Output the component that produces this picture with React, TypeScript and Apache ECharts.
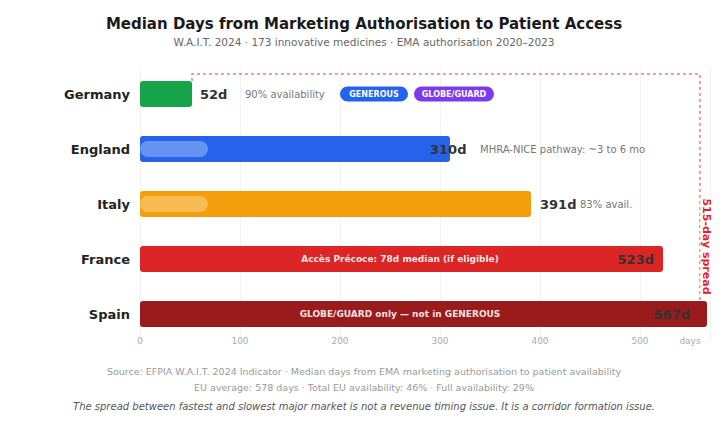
import React, { useEffect, useRef } from "react";
import * as echarts from "echarts";

const countries = ["Germany", "England", "Italy", "France", "Spain"];
const medianDays = [52, 310, 391, 523, 567];
const barColors = ["#16a34a", "#2563eb", "#f59e0b", "#dc2626", "#991b1b"];
const sideNotes = ["90% availability", "MHRA-NICE pathway: ~3 to 6 mo", "83% avail.", "", ""];
const insideNotes = ["", "", "", "Accès Précoce: 78d median (if eligible)", "GLOBE/GUARD only — not in GENEROUS"];
const pillDays = [null, 68, 68, null, null];
const badges = ["GENEROUS", "GLOBE/GUARD"];
const xTicks = [0, 100, 200, 300, 400, 500];
const spreadDays = 515;
const bracketDay = 560;
const insideNoteDay = 260;
const axisUnit = "days";
const axisUnitDay = 550;

const FONT = "DejaVu Sans";

export default function App() {
  const ref = useRef<HTMLDivElement>(null);
  useEffect(() => {
    if (!ref.current) return;
    const chart = echarts.init(ref.current, undefined, { renderer: "svg" });

    const labelFor = (i: number) => {
      const v = medianDays[i] + "d";
      if (i === 0) {
        return {
          show: true,
          position: "right",
          distance: 8,
          formatter: `{v|${v}}{s|${sideNotes[i]}}{b1|${badges[0]}}{gap|}{b2|${badges[1]}}`,
          rich: {
            v: { fontFamily: FONT, fontSize: 13, fontWeight: "bold", color: "#333", width: 45 },
            s: { fontFamily: FONT, fontSize: 10, color: "#777", width: 95 },
            b1: {
              fontFamily: FONT, fontSize: 8, fontWeight: "bold", color: "#fff",
              backgroundColor: "#2563eb", borderRadius: 8, width: 68, align: "center",
              padding: [4, 0, 3, 0],
            },
            gap: { width: 6 },
            b2: {
              fontFamily: FONT, fontSize: 8, fontWeight: "bold", color: "#fff",
              backgroundColor: "#7c3aed", borderRadius: 8, width: 80, align: "center",
              padding: [4, 0, 3, 0],
            },
          },
        };
      }
      if (i === 1 || i === 2) {
        return {
          show: true,
          position: "right",
          distance: i === 1 ? -20 : 9,
          formatter: `{v|${v}}{s|${sideNotes[i]}}`,
          rich: {
            v: { fontFamily: FONT, fontSize: 13, fontWeight: "bold", color: "#333", width: i === 1 ? 50 : 40 },
            s: { fontFamily: FONT, fontSize: 10, color: "#777" },
          },
        };
      }
      return {
        show: true,
        position: "insideRight",
        distance: i === 3 ? 9 : 17,
        formatter: v,
        fontFamily: FONT,
        fontSize: 13,
        fontWeight: "bold",
        color: "#333",
      };
    };

    const option: any = {
      animation: false,
      title: {
        text: "Median Days from Marketing Authorisation to Patient Access",
        subtext: "W.A.I.T. 2024 · 173 innovative medicines · EMA authorisation 2020–2023",
        left: "center",
        top: 11,
        itemGap: 5,
        textStyle: { fontFamily: FONT, fontSize: 15, fontWeight: "bold", color: "#1a1a1a" },
        subtextStyle: { fontFamily: FONT, fontSize: 10.5, color: "#666" },
      },
      grid: { left: 140, right: 18, top: 66.5, height: 275 },
      xAxis: {
        type: "value",
        min: 0,
        max: 570,
        interval: 100,
        offset: -9,
        axisLine: { show: false },
        axisTick: { show: false },
        splitLine: { show: true, lineStyle: { color: "#f2f2f2", width: 1 } },
        axisLabel: {
          margin: 4,
          fontFamily: FONT,
          fontSize: 9,
          color: "#aaa",
          formatter: (val: number) => (xTicks.includes(val) ? String(val) : ""),
        },
      },
      yAxis: {
        type: "category",
        data: countries,
        inverse: true,
        axisLine: { show: false },
        axisTick: { show: false },
        axisLabel: {
          margin: 10,
          fontFamily: FONT,
          fontSize: 13,
          fontWeight: "bold",
          color: "#222",
        },
      },
      series: [
        {
          type: "bar",
          barWidth: 26,
          data: medianDays.map((d, i) => ({
            value: d,
            itemStyle: { color: barColors[i], borderRadius: 3 },
            label: labelFor(i),
          })),
          z: 2,
        },
        {
          type: "custom",
          z: 3,
          data: pillDays
            .map((d, i) => (d == null ? null : [d, countries[i]]))
            .filter((x) => x != null),
          renderItem: (params: any, api: any) => {
            const end = api.coord([api.value(0), api.value(1)]);
            const start = api.coord([0, api.value(1)]);
            const h = 16;
            return {
              type: "rect",
              shape: { x: start[0], y: end[1] - h / 2, width: end[0] - start[0], height: h, r: 8 },
              style: { fill: "rgba(255,255,255,0.3)" },
            };
          },
        },
      ],
    };
    chart.setOption(option);

    const px = (v: number, c: string) => chart.convertToPixel({ gridIndex: 0 }, [v, c]) as number[];
    const graphics: any[] = [];

    insideNotes.forEach((t, i) => {
      if (!t) return;
      const p = px(insideNoteDay, countries[i]);
      graphics.push({
        type: "text",
        x: p[0],
        y: p[1],
        z: 10,
        style: {
          text: t,
          fontFamily: FONT,
          fontSize: 9,
          fontWeight: "bold",
          fill: "rgba(255,255,255,0.9)",
          align: "center",
          verticalAlign: "middle",
        },
      });
    });

    const first = px(medianDays[0], countries[0]);
    const last = px(medianDays[medianDays.length - 1], countries[countries.length - 1]);
    const bx = px(bracketDay, countries[0])[0];
    const topY = first[1] - 13 - 7;
    graphics.push({
      type: "polyline",
      z: 1,
      shape: {
        points: [
          [first[0], first[1] - 13],
          [first[0], topY],
          [bx, topY],
          [bx, last[1]],
          [last[0], last[1]],
        ],
      },
      style: { stroke: "rgba(220,38,38,0.6)", lineWidth: 1.5, lineDash: [3, 3], fill: null },
    });
    const midY = (px(0, countries[2])[1] + px(0, countries[3])[1]) / 2 + 15;
    graphics.push({
      type: "text",
      x: bx + 6,
      y: midY,
      rotation: -Math.PI / 2,
      z: 5,
      style: {
        text: `${spreadDays}-day spread`,
        fontFamily: FONT,
        fontSize: 11,
        fontWeight: "bold",
        fill: "#dc2626",
        align: "center",
        verticalAlign: "middle",
        backgroundColor: "#fff",
        padding: [0, 2],
      },
    });

    const unitP = px(axisUnitDay, countries[4]);
    graphics.push({
      type: "text",
      x: unitP[0],
      y: 341,
      style: { text: axisUnit, fontFamily: FONT, fontSize: 9, fill: "#aaa", align: "center", verticalAlign: "middle" },
    });

    const footer = [
      { t: "Source: EFPIA W.A.I.T. 2024 Indicator · Median days from EMA marketing authorisation to patient availability", y: 371, italic: false, c: "#999", s: 9.5 },
      { t: "EU average: 578 days · Total EU availability: 46% · Full availability: 29%", y: 387, italic: false, c: "#999", s: 9.5 },
      { t: "The spread between fastest and slowest major market is not a revenue timing issue. It is a corridor formation issue.", y: 406, italic: true, c: "#555", s: 10 },
    ];
    footer.forEach((f) =>
      graphics.push({
        type: "text",
        x: 364,
        y: f.y,
        style: {
          text: f.t,
          fontFamily: FONT,
          fontSize: f.s,
          fontStyle: f.italic ? "italic" : "normal",
          fill: f.c,
          align: "center",
          verticalAlign: "middle",
        },
      })
    );

    chart.setOption({ graphic: graphics });

    return () => chart.dispose();
  }, []);

  return <div ref={ref} style={{ width: 728, height: 422, position: "absolute", left: 0, top: 0 }} />;
}
